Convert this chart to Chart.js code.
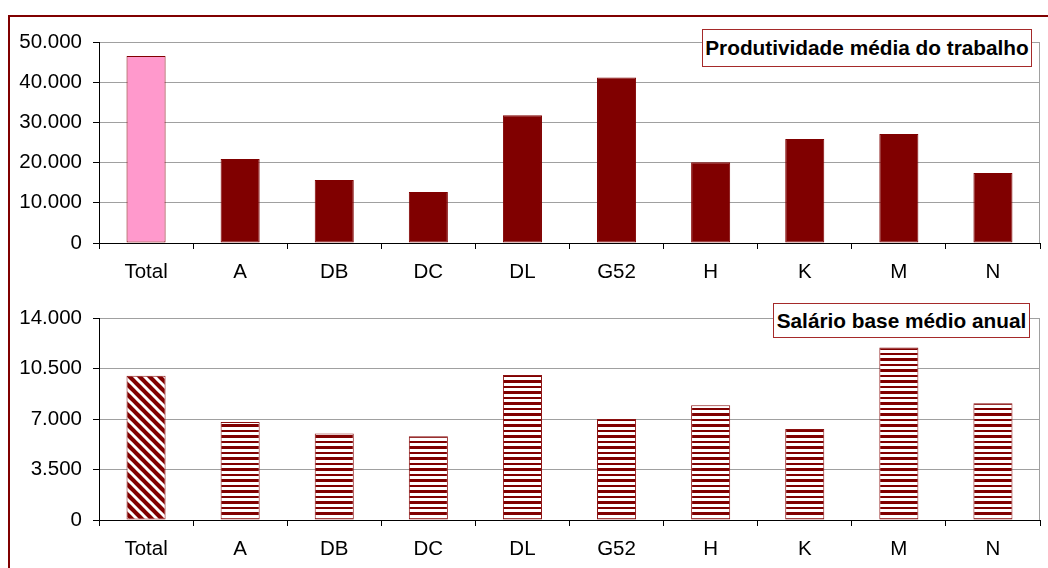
<!DOCTYPE html>
<html><head><meta charset="utf-8">
<script src="https://cdn.jsdelivr.net/npm/chart.js@4/dist/chart.umd.min.js"></script>
<style>
html,body{margin:0;padding:0;background:#fff;width:1048px;height:568px;overflow:hidden;font-family:"Liberation Sans",Arial,sans-serif}
#frame{position:absolute;left:8px;top:15px;width:1100px;height:600px;border:2px solid #800000;box-sizing:border-box}
.wrap{position:absolute;left:0;width:1048px}
#w1{top:0;height:292px}
#w2{top:292px;height:276px}
.lab{position:absolute;z-index:5;background:#fff;border:1px solid #a52a2a;font-weight:bold;font-size:20.8px;display:flex;align-items:center;justify-content:center;color:#000;box-sizing:border-box;white-space:nowrap;font-family:"Liberation Sans",Arial,sans-serif}
</style></head><body>
<div id="frame"></div>
<div class="wrap" id="w1"><canvas id="c1" width="1048" height="292"></canvas></div>
<div class="wrap" id="w2"><canvas id="c2" width="1048" height="276"></canvas></div>
<div class="lab" id="t1" style="left:702px;top:29px;width:330px;height:38px"></div>
<div class="lab" id="t2" style="left:773px;top:303px;width:257px;height:35px"></div>
<script>
const categories = ['Total','A','DB','DC','DL','G52','H','K','M','N'];
const productivity = [46500, 20900, 15700, 12700, 31800, 41200, 20100, 25900, 27100, 17400];
const salary = [10000, 6800, 6000, 5800, 10050, 7000, 7950, 6300, 11950, 8100];
const productivityTicks = [0, 10000, 20000, 30000, 40000, 50000];
const salaryTicks = [0, 3500, 7000, 10500, 14000];
const chartTitles = ['Produtividade média do trabalho', 'Salário base médio anual'];

document.getElementById('t1').textContent = chartTitles[0];
document.getElementById('t2').textContent = chartTitles[1];

const FONT = '"Liberation Sans", Arial, sans-serif';
const DARK = '#800000';
const fmt = v => String(v).replace(/\B(?=(\d{3})+(?!\d))/g, '.');

function stripePattern(ctx){
  const c = document.createElement('canvas'); c.width = 8; c.height = 11;
  const g = c.getContext('2d');
  g.fillStyle = '#fff'; g.fillRect(0,0,8,11);
  g.fillStyle = DARK; g.fillRect(0,0,8,3); g.fillRect(0,6,8,2);
  return ctx.createPattern(c, 'repeat');
}
function diagPattern(ctx){
  const s = 10;
  const c = document.createElement('canvas'); c.width = s; c.height = s;
  const g = c.getContext('2d');
  g.fillStyle = DARK; g.fillRect(0,0,s,s);
  g.strokeStyle = '#fff'; g.lineWidth = 3;
  for (const o of [-s, 0, s]) { g.beginPath(); g.moveTo(o-2,-2); g.lineTo(o+s+2,s+2); g.stroke(); }
  return ctx.createPattern(c, 'repeat');
}

const plotFrame = {
  id: 'plotFrame',
  beforeDatasetsDraw(chart){
    const a = chart.chartArea, g = chart.ctx;
    g.save(); g.strokeStyle = '#a0a0a0'; g.lineWidth = 1;
    g.beginPath(); g.moveTo(a.right - 0.5, a.top); g.lineTo(a.right - 0.5, a.bottom); g.stroke();
    g.restore();
  }
};

function makeChart(id, values, ticksArr, fills, borderColor, padTop, xH){
  const ctx = document.getElementById(id).getContext('2d');
  return new Chart(ctx, {
    type: 'bar',
    data: { labels: categories, datasets: [{
      data: values,
      backgroundColor: fills(ctx),
      borderColor: borderColor,
      borderWidth: 1,
      borderSkipped: false,
      barPercentage: 0.415,
      categoryPercentage: 1
    }]},
    options: {
      responsive: false, animation: false, devicePixelRatio: 1,
      layout: { padding: { top: padTop, right: 8, left: 0, bottom: 0 } },
      plugins: { legend: { display: false }, tooltip: { enabled: false }, title: { display: false } },
      scales: {
        x: {
          grid: { drawOnChartArea: false, drawTicks: true, tickLength: 6, tickColor: '#000', offset: true },
          border: { color: '#000', width: 1 },
          ticks: { color: '#000', font: { family: FONT, size: 20.5 }, padding: 11, maxRotation: 0, autoSkip: false },
          afterFit(s){ s.height = xH; }
        },
        y: {
          min: ticksArr[0], max: ticksArr[ticksArr.length-1],
          afterBuildTicks(s){ s.ticks = ticksArr.map(v => ({ value: v })); },
          ticks: { color: '#000', font: { family: FONT, size: 20.5 }, padding: 11, callback: v => fmt(v) },
          grid: { color: '#a0a0a0', tickColor: '#000', tickLength: 6, drawTicks: true },
          border: { color: '#000', width: 1 },
          afterFit(s){ s.width = 99; }
        }
      }
    },
    plugins: [plotFrame]
  });
}

makeChart('c1', productivity, productivityTicks,
  ctx => categories.map((c, i) => i === 0 ? '#FF99CC' : DARK), DARK, 42, 49);
makeChart('c2', salary, salaryTicks,
  ctx => { const st = stripePattern(ctx), dg = diagPattern(ctx); return categories.map((c, i) => i === 0 ? dg : st); },
  '#8b1010', 26, 48);
</script>
</body></html>
